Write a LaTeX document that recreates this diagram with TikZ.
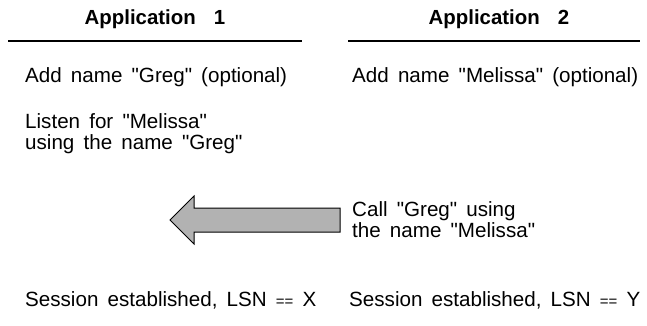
\documentclass[tikz,border=0pt]{standalone}
\usepackage{fontspec}
\newfontfamily\figfont[WordSpace=1.6]{Liberation Sans}
\newcommand\eqeq{{\fontsize{15}{15}\selectfont ==}}
\usetikzlibrary{positioning}

\begin{document}
\begin{tikzpicture}[x=1pt,y=-1pt,
    head/.style={font=\figfont\fontsize{20.4}{22}\selectfont\bfseries},
    txt/.style={font=\figfont\fontsize{20.6}{21}\selectfont, anchor=west, align=left, inner sep=0pt}]
    \useasboundingbox (0,0) rectangle (647,326);

    % Column heads
    \node[head] (app1) at (155, 19) {Application\ \ 1};
    \node[head] (app2) at (499, 19) {Application\ \ 2};
    \draw[line width=1.6pt] (8, 41) -- (302, 41);
    \draw[line width=1.6pt] (348, 41) -- (640, 41);

    % Application 1 side
    \node[txt] (add1) at (25, 77) {Add name "Greg" (optional)};
    \node[txt] (listen) at (25, 133.5) {Listen for "Melissa"\\using the name "Greg"};
    \node[txt] (sess1) at (25, 300) {Session established, LSN \eqeq{} X};

    % Application 2 side
    \node[txt] (add2) at (352, 77) {Add name "Melissa" (optional)};
    \node[txt] (call) at (352, 219.5) {Call "Greg" using\\the name "Melissa"};
    \node[txt] (sess2) at (349, 300) {Session established, LSN \eqeq{} Y};

    % Call arrow
    \draw[line width=1pt, fill=black!30]
        (340, 208) -- (194, 208) -- (194, 196) -- (170, 220) -- (194, 244)
        -- (194, 232) -- (340, 232) -- cycle;
\end{tikzpicture}
\end{document}
